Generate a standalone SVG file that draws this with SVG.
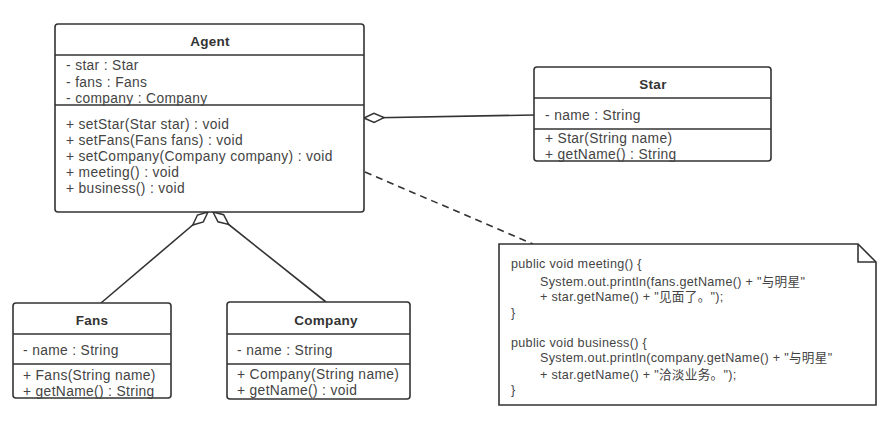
<svg xmlns="http://www.w3.org/2000/svg" width="891" height="438" viewBox="0 0 891 438">
<style>
.box{fill:#fff;stroke:#333;stroke-width:1.6}
.div{stroke:#333;stroke-width:1.6}
.t{font-family:"Liberation Sans",Arial,sans-serif;font-size:13.8px;letter-spacing:0.35px;fill:#444}
.h{font-family:"Liberation Sans",Arial,sans-serif;font-size:13.5px;font-weight:bold;letter-spacing:0.3px;fill:#333;text-anchor:middle}
.n{font-family:"Liberation Sans",Arial,"Noto Sans CJK SC",sans-serif;font-size:12.6px;letter-spacing:0.3px;fill:#444}
.c{stroke:#333;stroke-width:1.6;fill:none}
</style>
<defs>
<marker id="dia" markerUnits="userSpaceOnUse" markerWidth="24" markerHeight="12" refX="1" refY="6" orient="auto" viewBox="0 0 24 12">
<path d="M1,6 L11,1.5 L21,6 L11,10.5 Z" fill="#fff" stroke="#333" stroke-width="1.5"/>
</marker>
</defs>
<rect width="891" height="438" fill="#fff"/>
<g id="connectors">
<path class="c" d="M364,118 L534,115" marker-start="url(#dia)"/>
<path class="c" d="M208,212 L101,303" marker-start="url(#dia)"/>
<path class="c" d="M213,212 L326,302" marker-start="url(#dia)"/>
<path class="c" d="M365,172 L533,244" stroke-dasharray="7,5"/>
</g>
<g id="agent">
<rect class="box" x="55" y="24" width="309" height="188" rx="3"/>
<line class="div" x1="55" y1="55" x2="364" y2="55"/>
<line class="div" x1="55" y1="105" x2="364" y2="105"/>
<text class="h" x="210" y="46">Agent</text>
<text class="t" x="66" y="70">- star : Star</text>
<text class="t" x="66" y="87">- fans : Fans</text>
<text class="t" x="66" y="103">- company : Company</text>
<text class="t" x="66" y="129">+ setStar(Star star) : void</text>
<text class="t" x="66" y="145">+ setFans(Fans fans) : void</text>
<text class="t" x="66" y="161">+ setCompany(Company company) : void</text>
<text class="t" x="66" y="177">+ meeting() : void</text>
<text class="t" x="66" y="193">+ business() : void</text>
</g>
<g id="star">
<rect class="box" x="534" y="67" width="237" height="94" rx="3"/>
<line class="div" x1="534" y1="98" x2="771" y2="98"/>
<line class="div" x1="534" y1="129" x2="771" y2="129"/>
<text class="h" x="653" y="89">Star</text>
<text class="t" x="545" y="120">- name : String</text>
<text class="t" x="545" y="143">+ Star(String name)</text>
<text class="t" x="545" y="159">+ getName() : String</text>
</g>
<g id="fans">
<rect class="box" x="13" y="303" width="158" height="95" rx="3"/>
<line class="div" x1="13" y1="334" x2="171" y2="334"/>
<line class="div" x1="13" y1="364" x2="171" y2="364"/>
<text class="h" x="92" y="325">Fans</text>
<text class="t" x="23" y="355">- name : String</text>
<text class="t" x="23" y="380">+ Fans(String name)</text>
<text class="t" x="23" y="396">+ getName() : String</text>
</g>
<g id="company">
<rect class="box" x="227" y="302" width="183" height="97" rx="3"/>
<line class="div" x1="227" y1="334" x2="410" y2="334"/>
<line class="div" x1="227" y1="364" x2="410" y2="364"/>
<text class="h" x="326" y="325">Company</text>
<text class="t" x="237" y="355">- name : String</text>
<text class="t" x="237" y="379">+ Company(String name)</text>
<text class="t" x="237" y="395">+ getName() : void</text>
</g>
<g id="note">
<path class="box" d="M499,244 L858,244 L876,262 L876,405 L499,405 Z"/>
<path class="c" d="M858,244 L858,262 L876,262"/>
<text class="n" x="511" y="268">public void meeting() {</text>
<text class="n" x="540" y="286">System.out.println(fans.getName() + "与明星"</text>
<text class="n" x="540" y="301">+ star.getName() + "见面了。");</text>
<text class="n" x="511" y="317">}</text>
<text class="n" x="511" y="347">public void business() {</text>
<text class="n" x="540" y="362">System.out.println(company.getName() + "与明星"</text>
<text class="n" x="540" y="379">+ star.getName() + "洽淡业务。");</text>
<text class="n" x="511" y="394">}</text>
</g>
</svg>
